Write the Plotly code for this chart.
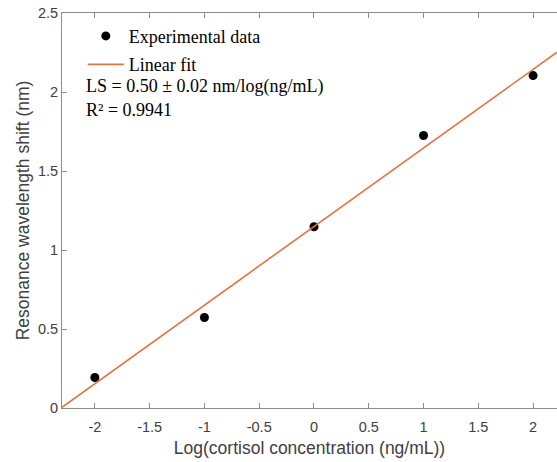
import numpy as np
import plotly.graph_objects as go

# Measured resonance shifts vs log cortisol concentration
log_conc = [-2, -1, 0, 1, 2]
shift_nm = [0.193, 0.573, 1.147, 1.725, 2.104]

x_ticks = [-2, -1.5, -1, -0.5, 0, 0.5, 1, 1.5, 2]
y_ticks = [0, 0.5, 1, 1.5, 2, 2.5]

x_range = [-2.3, 2.218]
y_range = [0, 2.5]

# Least-squares linear fit across the full axis span
slope, intercept = np.polyfit(log_conc, shift_nm, 1)
fit_x = np.array(x_range)
fit_y = slope * fit_x + intercept

axis_grey = "#8c8c8c"
sans = "Liberation Sans, Arial, sans-serif"
tick_font = dict(family=sans, size=14.5, color="#404040")
title_font = dict(family=sans, size=17.5, color="#404040")
serif = "Liberation Serif, Times New Roman, serif"

fig = go.Figure()
fig.add_trace(go.Scatter(
    x=log_conc, y=shift_nm, mode="markers", name="Experimental data",
    legendgroup="data", marker=dict(color="black", size=9),
))
fig.add_trace(go.Scatter(
    x=fit_x, y=fit_y, mode="lines", name="Linear fit",
    legendgroup="fit", line=dict(color="#E4743C", width=1.6),
))

fig.add_annotation(
    x=0.045, y=0.813, xref="paper", yref="paper", xanchor="left", yanchor="middle",
    text=f"LS = {slope:.2f} \u00b1 0.02 nm/log(ng/mL)", showarrow=False,
    font=dict(family=serif, size=18, color="black"),
)
fig.add_annotation(
    x=0.045, y=0.755, xref="paper", yref="paper", xanchor="left", yanchor="middle",
    text="R\u00b2 = 0.9941", showarrow=False,
    font=dict(family=serif, size=18, color="black"),
)

fig.update_layout(
    width=557, height=462,
    margin=dict(l=62, r=0, t=13, b=54),
    plot_bgcolor="white", paper_bgcolor="white",
    showlegend=True,
    legend=dict(
        x=0.042, y=0.988, xanchor="left", yanchor="top",
        bgcolor="rgba(0,0,0,0)", font=dict(family=serif, size=18, color="black"),
        traceorder="grouped", tracegroupgap=2, itemwidth=36,
    ),
    xaxis=dict(
        range=x_range, tickvals=x_ticks, ticktext=[f"{v:g}" for v in x_ticks],
        showgrid=False, zeroline=False, showline=True, linecolor=axis_grey, linewidth=1,
        mirror="ticks", ticks="inside", ticklen=5, tickcolor=axis_grey,
        tickfont=tick_font, ticklabelstandoff=6,
        title=dict(text="Log(cortisol concentration (ng/mL))", font=title_font, standoff=7),
    ),
    yaxis=dict(
        range=y_range, tickvals=y_ticks, ticktext=[f"{v:g}" for v in y_ticks],
        showgrid=False, zeroline=False, showline=True, linecolor=axis_grey, linewidth=1,
        ticks="inside", ticklen=5, tickcolor=axis_grey,
        tickfont=tick_font, ticklabelstandoff=0,
        title=dict(text="Resonance wavelength shift (nm)", font=title_font, standoff=3),
    ),
)

fig.write_html("out.html")
